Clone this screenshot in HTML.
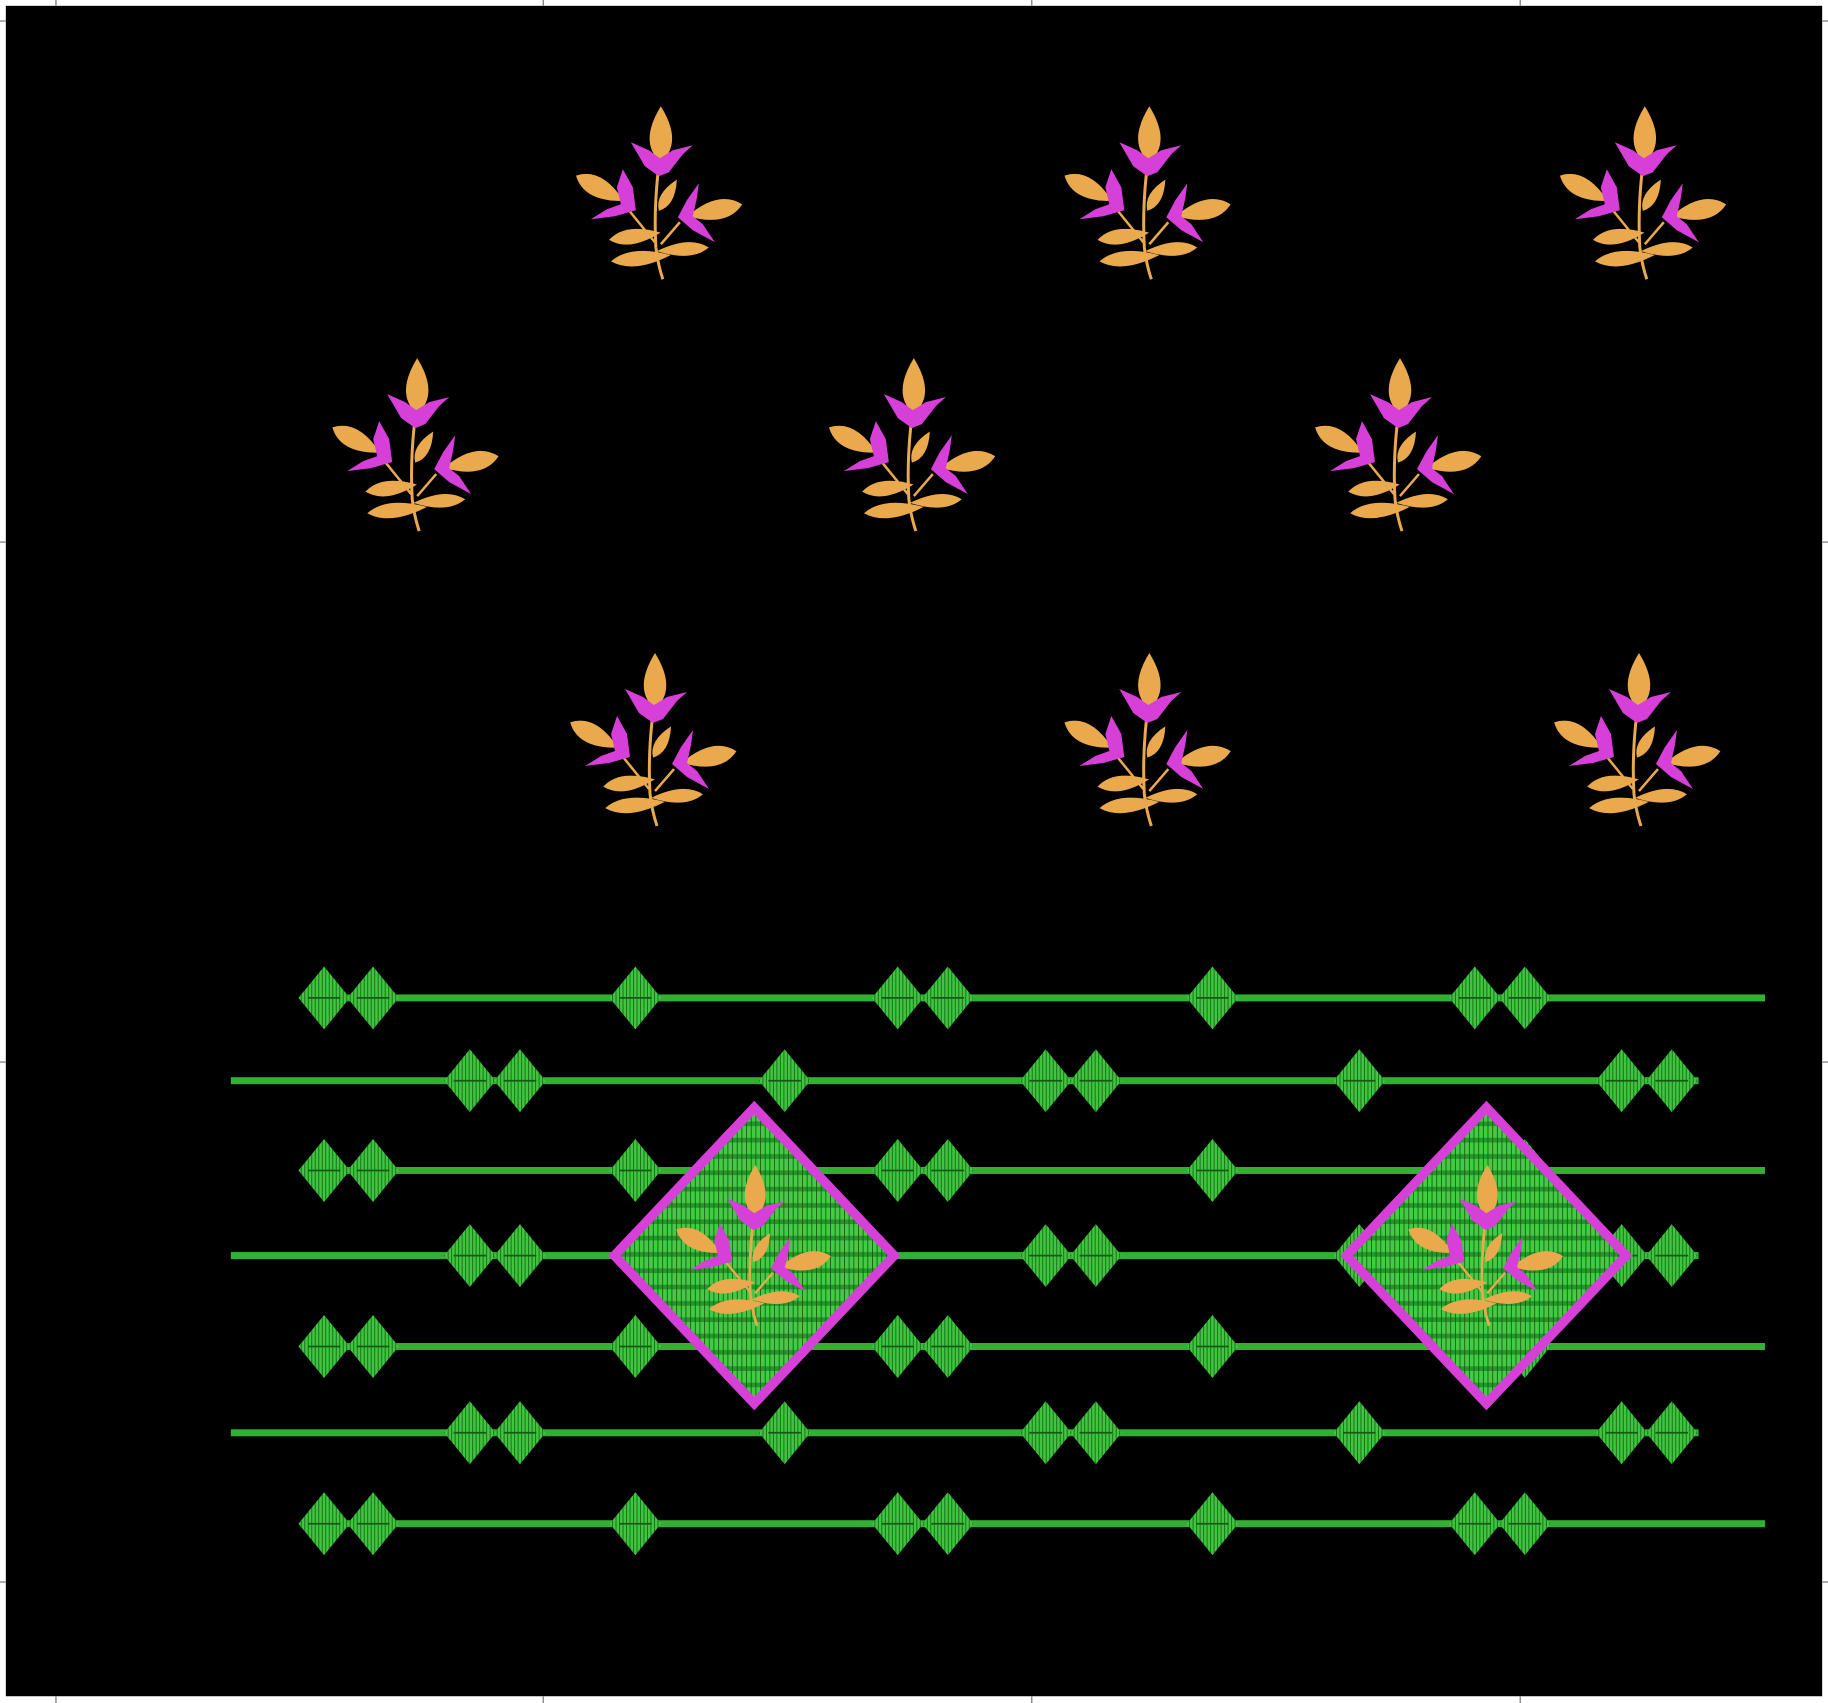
<!DOCTYPE html>
<html><head><meta charset="utf-8"><style>
html,body{margin:0;padding:0;background:#fff;}
svg{display:block;}
</style></head><body>
<svg id="art" width="1828" height="1703" viewBox="0 0 1568 1460.8" preserveAspectRatio="none" xmlns="http://www.w3.org/2000/svg">
<defs>
<pattern id="gstitch" width="3" height="6" patternUnits="userSpaceOnUse"><rect width="3" height="6" fill="#3fc63f"/><rect width="0.8" height="6" fill="#1a6a1a"/></pattern>
<pattern id="bigfill" width="4" height="14" patternUnits="userSpaceOnUse"><rect width="4" height="14" fill="#43cc43"/><rect y="10" width="4" height="4" fill="#24962a"/><rect width="0.7" height="14" fill="#125512"/></pattern>
</defs>
<rect x="5" y="5" width="1558" height="1450" fill="#000"/>
<g id="ticks" stroke="#888" stroke-width="1.2"></g>
<g id="lines"></g>
<g id="sprigs"></g>
</svg>
<script>
const NS='http://www.w3.org/2000/svg';
const svg=document.getElementById('art');
const k=1/1.1658;
// sprig tip positions (display coords)
const sprigX=[566,985,1410,357,783,1200,561,985,1405];
const sprigY=[92,92,92,308,308,308,561,561,561];
// green stripe rows
const rowY=[856,927,1004,1077,1155,1229,1307];
const oddDiamonds=[278,320,545,770,813,1040,1265,1308];
const evenDiamonds=[403,446,673,897,940,1166,1391,1434];
const bigX=[647,1275];
const bigY=1077;

function el(tag,attrs,parent){const e=document.createElementNS(NS,tag);for(const a in attrs)e.setAttribute(a,attrs[a]);parent.appendChild(e);return e;}
function leaf(g,cx,cy,rx,ry,rot,fill){
  return el('path',{d:`M${cx-rx} ${cy} Q${cx-rx*0.3} ${cy-ry*1.5} ${cx+rx} ${cy} Q${cx-rx*0.3} ${cy+ry*1.5} ${cx-rx} ${cy} Z`,fill:fill,transform:`rotate(${rot} ${cx} ${cy})`},g);
}

const tg=document.getElementById('ticks');
[48,466,885,1304].forEach(x=>{el('line',{x1:x,y1:0,x2:x,y2:5},tg);el('line',{x1:x,y1:1455,x2:x,y2:1461},tg);});
[18,465,911,1357].forEach(y=>{el('line',{x1:0,y1:y,x2:5,y2:y},tg);el('line',{x1:1563,y1:y,x2:1568,y2:y},tg);});

function sprig(parent,tx,ty,sc,name){
  const g=el('g',{transform:`translate(${tx},${ty}) scale(${sc}) translate(-97,-15)`},parent);
  
  
  const gold='#eaa94c',pink='#d63fd8';
  el('path',{d:'M95 82 Q91 120 93 155 Q95 172 100 187',stroke:gold,'stroke-width':3,fill:'none'},g);
  el('path',{d:'M66 118 L92 150 M117 130 L98 152',stroke:gold,'stroke-width':2.5,fill:'none'},g);
  leaf(g,98,42,28,15,-90,gold);
  el('path',{d:'M68 50 L86 58 L97 66 L110 58 L130 53 L120 62 L106 80 L96 84 L82 74 Z',fill:pink},g);
  leaf(g,37,96,27,13,28,gold);
  el('path',{d:'M60 77 L70 95 L73 118 L52 124 L28 127 L44 117 L58 112 L54 95 Z',fill:pink},g);
  leaf(g,152,118,28,13,168,gold);
  el('path',{d:'M136 91 L124 108 L115 125 L130 138 L152 150 L140 132 L130 124 L134 106 Z',fill:pink},g);
  leaf(g,105,103,18,8,-60,gold);
  leaf(g,72,144,26,10,-8,gold);
  leaf(g,78,166,30,10,-6,gold);
  leaf(g,120,157,26,9,176,gold);
}

const lg=document.getElementById('lines');
rowY.forEach((y,i)=>{
  const odd=i%2===0;
  const x1=odd?258:198, x2=odd?1514:1457;
  const r=el('rect',{x:x1,y:y-3,width:x2-x1,height:6,fill:'#33b033'},lg);
  
  
  (odd?oddDiamonds:evenDiamonds).forEach(cx=>{
    const d=el('path',{d:`M${cx-22} ${y} L${cx} ${y-27} L${cx+22} ${y} L${cx} ${y+27} Z`,fill:'url(#gstitch)'},lg);
    
    
    el('line',{x1:cx-14,y1:y,x2:cx+14,y2:y,stroke:'#145a14','stroke-width':1.5},lg);
  });
});

const sg=document.getElementById('sprigs');
sprigX.forEach((x,i)=>sprig(sg,x,sprigY[i],k,'flower-sprig'));
bigX.forEach(cx=>{
  const d=el('path',{d:`M${cx-120} ${bigY} L${cx} ${bigY-127} L${cx+120} ${bigY} L${cx} ${bigY+127} Z`,fill:'url(#bigfill)',stroke:'#d63fd8','stroke-width':8,'stroke-linejoin':'miter'},sg);
  
  
  sprig(sg,cx,bigY-77,k*0.93,'medallion-sprig');
});
</script>
</body></html>
